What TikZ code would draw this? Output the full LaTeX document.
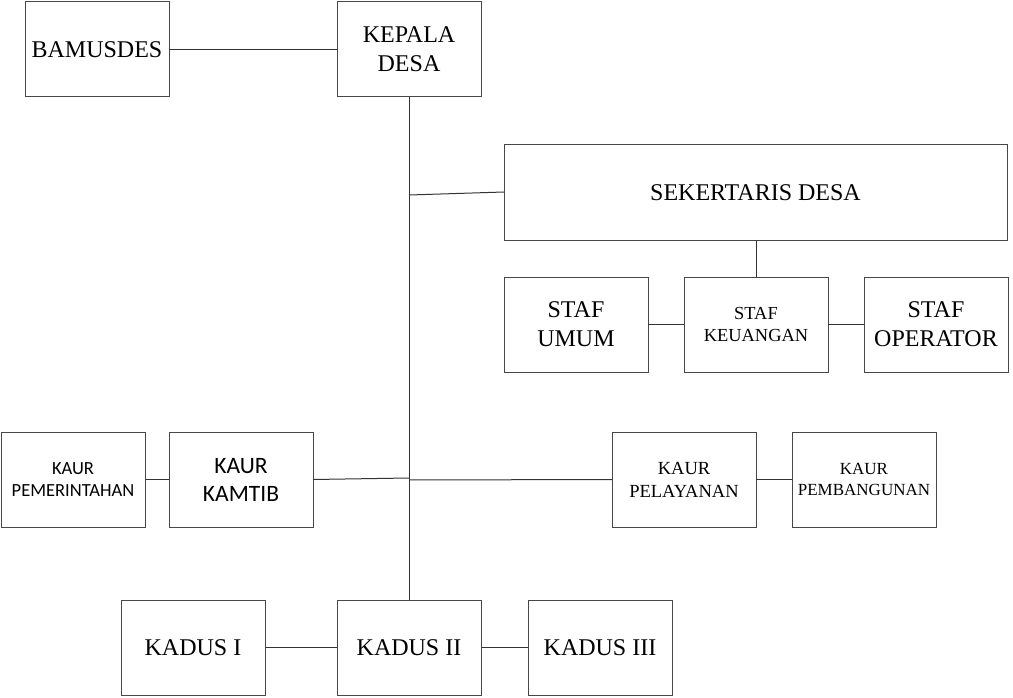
\documentclass[tikz,border=0pt]{standalone}
\usepackage{fontspec}
\setmainfont{Liberation Serif}
\newfontfamily\calfont{Carlito}
\begin{document}
\begin{tikzpicture}[x=1pt,y=-1pt,
  box/.style={draw=black!72, line width=1pt, anchor=north west, minimum width=144pt, minimum height=95pt, inner sep=0pt, outer sep=0pt, align=center, text=black},
  conn/.style={draw=black!80, line width=1pt},
  big/.style={font=\fontsize{24}{29}\selectfont},
  mid/.style={font=\fontsize{18.5}{23}\selectfont},
  sml/.style={font=\fontsize{17}{20.5}\selectfont}]
\useasboundingbox (0,0) rectangle (1013,698);
\node[box,big] (bam) at (25,2) {BAMUSDES};
\node[box,big] (kep) at (337,2) {KEPALA\\DESA};
\node[box,big,minimum width=503pt] (sek) at (504,145) {SEKERTARIS DESA};
\node[box,big] (umum) at (504,277) {STAF\\UMUM};
\node[box,font=\fontsize{18.4}{21.5}\selectfont] (keu) at (684,277) {STAF\\KEUANGAN};
\node[box,big] (ope) at (864,277) {STAF\\OPERATOR};
\node[box,font=\calfont\fontsize{18.5}{22}\selectfont] (pem) at (1,432) {KAUR\\PEMERINTAHAN};
\node[box,font=\calfont\fontsize{23.5}{28}\selectfont] (kam) at (169,432) {KAUR\\KAMTIB};
\node[box,mid] (pel) at (612,432) {KAUR\\PELAYANAN};
\node[box,sml] (pbg) at (792,432) {KAUR\\PEMBANGUNAN};
\node[box,big] (kd1) at (121,600) {KADUS I};
\node[box,big] (kd2) at (337,600) {KADUS II};
\node[box,big] (kd3) at (528,600) {KADUS III};
\coordinate (j1) at (409,195);
\coordinate (j2) at (409,478);
\coordinate (j3) at (409,480);
\draw[conn] (bam.east) -- (kep.west);
\draw[conn] (kep.south) -- (kd2.north);
\draw[conn] (j1) -- (sek.west |- 0,192);
\draw[conn] (sek.south -| keu.north) -- (keu.north);
\draw[conn] (umum.east) -- (keu.west);
\draw[conn] (keu.east) -- (ope.west);
\draw[conn] (pem.east) -- (kam.west);
\draw[conn] (kam.east) -- (j2);
\draw[conn] (j3) -- (pel.west);
\draw[conn] (pel.east) -- (pbg.west);
\draw[conn] (kd1.east) -- (kd2.west);
\draw[conn] (kd2.east) -- (kd3.west);
\end{tikzpicture}
\end{document}
